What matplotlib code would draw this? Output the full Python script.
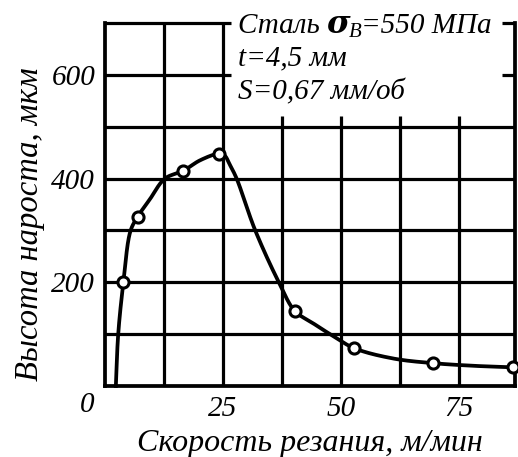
import numpy as np
import matplotlib
matplotlib.use("Agg")
import matplotlib.pyplot as plt
from matplotlib.transforms import offset_copy

# Measured points (circles)
speed_pts = [3.9, 6.9, 16.6, 24.1, 40.2, 52.8, 69.6, 86.5]
height_pts = [200, 326, 415, 448, 145, 73, 44, 36]

# Additional points along the drawn curve between the measured points
curve_speed = [2.3, 2.8, 3.9, 5.4, 6.9, 9.5, 12.7, 16.6, 20.1, 24.1, 25.3, 26.5, 27.9,
               31.8, 36.9, 40.2, 44.1, 47.7, 52.8, 61.1, 69.6, 78.0, 86.5]
curve_height = [0, 100, 200, 299, 326, 360, 400, 415, 435, 448, 445, 426, 400,
                301, 199, 145, 121, 100, 73, 53, 44, 39, 36]

y_ticks = [200, 400, 600]
x_ticks = [25, 50, 75]
x_grid = [12.5, 25, 37.5, 50, 62.5, 75]
y_grid = [100, 200, 300, 400, 500, 600, 700]

steel = "Сталь "
sigma_sym, sigma_sub = "σ", "B"
strength = "=550 МПа"
caption_lines = ["t=4,5 мм", "S=0,67 мм/об"]
xlabel = "Скорость резания, м/мин"
ylabel = "Высота нароста, мкм"

FONT = "Liberation Serif"
W, H = 518, 457


def catmull_rom(xs, ys, scale_x, scale_y, n=40):
    """Centripetal Catmull-Rom spline through the given points."""
    P = np.column_stack([np.asarray(xs) * scale_x, np.asarray(ys) * scale_y])
    P = np.vstack([2 * P[0] - P[1], P, 2 * P[-1] - P[-2]])
    out = []
    for i in range(1, len(P) - 2):
        p0, p1, p2, p3 = P[i - 1], P[i], P[i + 1], P[i + 2]
        t0 = 0.0
        t1 = t0 + np.linalg.norm(p1 - p0) ** 0.5
        t2 = t1 + np.linalg.norm(p2 - p1) ** 0.5
        t3 = t2 + np.linalg.norm(p3 - p2) ** 0.5
        t = np.linspace(t1, t2, n, endpoint=False)[:, None]
        a1 = (t1 - t) / (t1 - t0) * p0 + (t - t0) / (t1 - t0) * p1
        a2 = (t2 - t) / (t2 - t1) * p1 + (t - t1) / (t2 - t1) * p2
        a3 = (t3 - t) / (t3 - t2) * p2 + (t - t2) / (t3 - t2) * p3
        b1 = (t2 - t) / (t2 - t0) * a1 + (t - t0) / (t2 - t0) * a2
        b2 = (t3 - t) / (t3 - t1) * a2 + (t - t1) / (t3 - t1) * a3
        c = (t2 - t) / (t2 - t1) * b1 + (t - t1) / (t2 - t1) * b2
        out.append(c)
    out.append(P[-2][None, :])
    pts = np.vstack(out)
    return pts[:, 0] / scale_x, pts[:, 1] / scale_y


fig = plt.figure(figsize=(W / 100, H / 100), dpi=100)
ax = fig.add_axes([105 / W, 71 / H, 410 / W, 363 / H])
xmax, ymax = 86.9, 700
ax.set_xlim(0, xmax)
ax.set_ylim(0, ymax)

LW = 2.3
for side in ["left", "bottom", "right"]:
    ax.spines[side].set_linewidth(LW + 0.4)
ax.spines["top"].set_visible(False)

# Grid with a gap left for the caption block
gap_x0, gap_x1, gap_y = 26.8, 84.1, 520
for gx in x_grid:
    top = ymax if gx < gap_x0 else gap_y
    ax.plot([gx, gx], [0, top], color="black", lw=LW, solid_capstyle="butt", zorder=1)
for gy in y_grid:
    if gy > gap_y:
        ax.plot([0, gap_x0], [gy, gy], color="black", lw=LW, solid_capstyle="butt",
                zorder=1, clip_on=False)
        ax.plot([gap_x1, xmax], [gy, gy], color="black", lw=LW, solid_capstyle="butt",
                zorder=1, clip_on=False)
    else:
        ax.plot([0, xmax], [gy, gy], color="black", lw=LW, solid_capstyle="butt", zorder=1)

# Smooth curve and measured points
cx, cy = catmull_rom(curve_speed, curve_height, 4.72, 0.5183)
ax.plot(cx, cy, color="black", lw=2.7, zorder=3, clip_on=False)
ax.plot(speed_pts, height_pts, "o", ms=8, mfc="white", mec="black", mew=2.2,
        zorder=4, clip_on=False)

# Ticks
ax.set_xticks(x_ticks)
ax.set_yticks(y_ticks)
ax.tick_params(axis="y", length=0, pad=7)
ax.tick_params(axis="x", length=0, pad=7)
for lab in ax.get_xticklabels() + ax.get_yticklabels():
    lab.set_fontfamily(FONT)
    lab.set_fontstyle("italic")
    lab.set_fontsize(21)
fig.text(87 / W, 1 - 412 / H, "0", ha="center", va="baseline",
         fontfamily=FONT, fontstyle="italic", fontsize=21)

fig.text(310 / W, 1 - 451 / H, xlabel, ha="center", va="baseline",
         fontfamily=FONT, fontstyle="italic", fontsize=23)
fig.text(30 / W, 1 - 224 / H, ylabel, ha="center", va="center", rotation=90,
         fontfamily=FONT, fontstyle="italic", fontsize=23.5)

# Caption block
fig.canvas.draw()
renderer = fig.canvas.get_renderer()
tx = 28.2
kw = dict(fontfamily=FONT, fontstyle="italic", fontsize=21, va="baseline", ha="left")
t1 = ax.text(tx, 681, steel, transform=ax.transData, **kw)
w1 = t1.get_window_extent(renderer).width
t2 = ax.text(tx, 681, sigma_sym, fontfamily="DejaVu Serif", fontstyle="italic",
             fontweight="bold", fontsize=23, va="baseline", ha="left",
             transform=offset_copy(ax.transData, fig, x=w1 - 1, y=0, units="dots"))
w2 = t2.get_window_extent(renderer).width
t3 = ax.text(tx, 681, sigma_sub, fontfamily=FONT, fontstyle="italic", fontsize=15,
             va="baseline", ha="left",
             transform=offset_copy(ax.transData, fig, x=w1 + w2 - 2, y=-4, units="dots"))
w3 = t3.get_window_extent(renderer).width
ax.text(tx, 681, strength,
        transform=offset_copy(ax.transData, fig, x=w1 + w2 + w3 - 2, y=0, units="dots"),
        **kw)
ax.text(tx, 619, caption_lines[0], transform=ax.transData, **kw)
ax.text(tx, 553, caption_lines[1], transform=ax.transData, **kw)

fig.savefig("out.png", dpi=100)
